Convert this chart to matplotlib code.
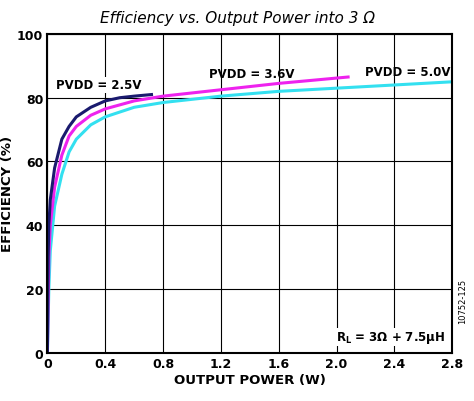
import matplotlib
matplotlib.use("Agg")
from matplotlib import pyplot as plt

# output power (W) and efficiency (%)
p_25 = [0, 0.005, 0.01, 0.02, 0.05, 0.1, 0.15, 0.2, 0.3, 0.4, 0.5, 0.6, 0.72]
e_25 = [0, 30, 40, 48, 58, 67, 71, 74, 77, 79, 80, 80.5, 81]
p_36 = [0, 0.01, 0.02, 0.05, 0.1, 0.15, 0.2, 0.3, 0.4, 0.6, 0.8, 1.2, 1.6, 2.08]
e_36 = [0, 30, 40, 52, 62, 68, 71, 74.5, 76.5, 79, 80.5, 82.5, 84.5, 86.5]
p_50 = [0, 0.01, 0.02, 0.05, 0.1, 0.15, 0.2, 0.3, 0.4, 0.6, 0.8, 1.2, 1.6, 2.0, 2.4, 2.8]
e_50 = [0, 20, 32, 46, 56, 63, 67, 71.5, 74, 77, 78.5, 80.5, 82, 83, 84, 85]

xticks = [0, 0.4, 0.8, 1.2, 1.6, 2.0, 2.4, 2.8]
yticks = [0, 20, 40, 60, 80, 100]

fig = plt.figure(figsize=(4.74, 4.02), dpi=100)
ax = fig.add_axes([0.1, 0.12, 0.854, 0.793])

ax.plot(p_50, e_50, color='#33e0f0', lw=2.2)
ax.plot(p_36, e_36, color='#ee22ee', lw=2.2)
ax.plot(p_25, e_25, color='#1a1a6e', lw=2.2)

ax.set_xlim(0, 2.8)
ax.set_ylim(0, 100)
ax.set_xticks(xticks)
ax.set_xticklabels(['0', '0.4', '0.8', '1.2', '1.6', '2.0', '2.4', '2.8'])
ax.set_yticks(yticks)
ax.grid(True, color='black', lw=0.8)
for s in ax.spines.values():
    s.set_linewidth(1.5)
ax.tick_params(labelsize=9, length=0, pad=3)
for lab in ax.get_xticklabels() + ax.get_yticklabels():
    lab.set_fontweight('bold')

ax.set_xlabel('OUTPUT POWER (W)', fontsize=9.5, fontweight='bold', labelpad=2)
ax.set_ylabel('EFFICIENCY (%)', fontsize=9.5, fontweight='bold', labelpad=2)
fig.text(0.5, 0.955, 'Efficiency vs. Output Power into 3 Ω', ha='center',
         va='center', fontsize=11, style='italic')

ax.text(0.06, 83, 'PVDD = 2.5V', fontsize=8.5, fontweight='bold',
        bbox=dict(fc='white', ec='none', pad=1))
ax.text(1.12, 86.5, 'PVDD = 3.6V', fontsize=8.5, fontweight='bold')
ax.text(2.2, 87, 'PVDD = 5.0V', fontsize=8.5, fontweight='bold')
ax.text(2.75, 4, r'R$_\mathbf{L}$ = 3Ω + 7.5µH', fontsize=8.5, fontweight='bold',
        ha='right', bbox=dict(fc='white', ec='none', pad=1))
fig.text(0.975, 0.25, '10752-125', rotation=90, fontsize=6, ha='center', va='center')

plt.savefig('out.png', dpi=100)
